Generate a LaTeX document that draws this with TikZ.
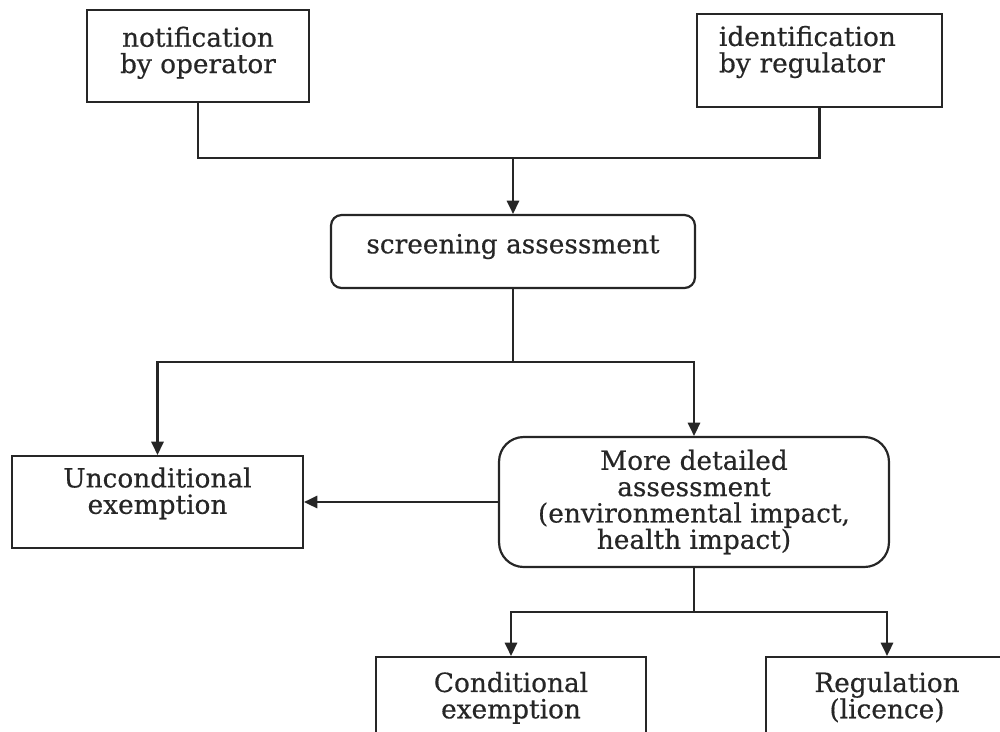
\documentclass[tikz,border=0pt]{standalone}
\usepackage{fontspec}
\setmainfont{DejaVu Serif}[FakeBold=0.5]
\usetikzlibrary{arrows.meta}

\begin{document}
\begin{tikzpicture}[x=0.02cm,y=-0.02cm,->,>={Triangle[length=7.5pt,width=7pt]},
    line width=1.25pt,color=black!85,
    box/.style={draw,rectangle,align=center,inner sep=4pt,
      font=\fontsize{15}{15}\selectfont},
    round box/.style={box,rounded corners=#1},
    lift/.style={execute at end node={\rule[-#1]{0pt}{0pt}}}]

    \useasboundingbox (0,0) rectangle (1000,731);
    \clip (0,0) rectangle (1000,731);

    \node[box,minimum width=4.44cm,minimum height=1.84cm,lift=7pt] (op) at (198,56) {notification\\by operator};
    \node[box,align=left,text width=4.02cm,minimum width=4.9cm,minimum height=1.86cm,lift=13pt] (reg) at (819.5,60.5) {identification\\by regulator};
    \node[round box=6pt,minimum width=7.28cm,minimum height=1.46cm,lift=9pt] (scr) at (513,251.5) {screening assessment};
    \node[box,minimum width=5.82cm,minimum height=1.84cm,lift=13pt] (unc) at (157.5,502) {Unconditional\\exemption};
    \node[round box=14pt,minimum width=7.8cm,minimum height=2.6cm] (det) at (694,502) {More detailed\\assessment\\(environmental impact,\\health impact)};
    \node[box,minimum width=5.4cm,minimum height=1.84cm,lift=9pt] (cond) at (511,703) {Conditional\\exemption};
    \node[box,minimum width=4.84cm,minimum height=1.84cm,lift=9pt] (lic) at (887,703) {Regulation\\(licence)};

    \coordinate (jt) at (513,158);
    \coordinate (jm) at (513,362);
    \coordinate (jb) at (694,612);

    % top: both sources join, then go to screening
    \draw[-] (op) |- (jt) -| (reg);
    \draw (jt) -- (scr);

    % screening splits
    \draw[-] (scr) -- (jm);
    \draw (jm) -| (unc);
    \draw (jm) -| (det);
    \path (det) edge (unc);

    % detailed assessment splits
    \draw[-] (det) -- (jb);
    \draw (jb) -| (cond);
    \draw (jb) -| (lic);

\end{tikzpicture}
\end{document}
